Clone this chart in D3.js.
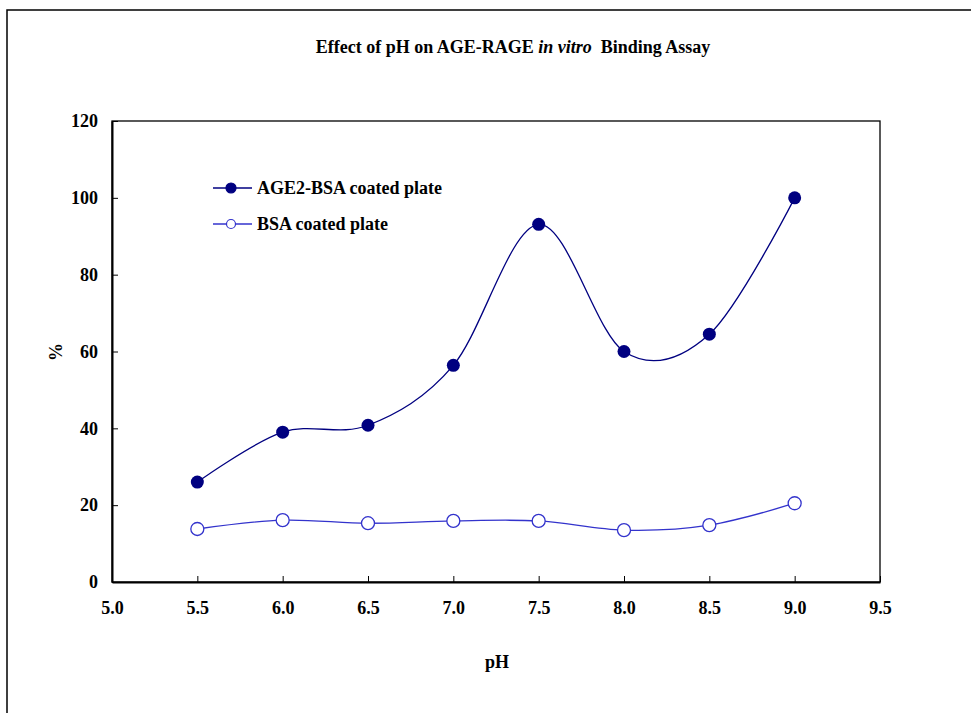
<!DOCTYPE html>
<html><head><meta charset="utf-8">
<script src="https://cdn.jsdelivr.net/npm/d3@7"></script>
<style>body{margin:0;background:#fff}svg{display:block}text{font-family:"Liberation Serif","Times New Roman",serif;font-weight:bold}</style>
</head><body>
<svg id="c" width="971" height="713"></svg>
<script>
const pH = [5.5, 6.0, 6.5, 7.0, 7.5, 8.0, 8.5, 9.0];
const age2bsa = [26, 39, 40.8, 56.4, 93.1, 60, 64.5, 100];
const bsa = [13.8, 16.1, 15.3, 15.9, 15.9, 13.5, 14.8, 20.5];
const xTicks = [5.0, 5.5, 6.0, 6.5, 7.0, 7.5, 8.0, 8.5, 9.0, 9.5];
const yTicks = [0, 20, 40, 60, 80, 100, 120];
const seriesNames = ["AGE2-BSA coated plate", "BSA coated plate"];

const svg = d3.select("#c");
svg.append("rect").attr("x",7).attr("y",10).attr("width",1000).attr("height",800)
  .attr("fill","none").attr("stroke","#000").attr("stroke-width",1.5);

const L=112,R=880,T=121,B=582;
const x = d3.scaleLinear().domain([5.0,9.5]).range([L,R]);
const y = d3.scaleLinear().domain([0,120]).range([B,T]);

svg.append("rect").attr("x",L).attr("y",T).attr("width",R-L).attr("height",B-T)
  .attr("fill","none").attr("stroke","#000").attr("stroke-width",1.3);

const xa = svg.append("g").attr("transform",`translate(0,${B})`)
  .call(d3.axisBottom(x).tickValues(xTicks).tickFormat(d3.format(".1f")).tickSizeInner(-6).tickSizeOuter(0).tickPadding(19));
const ya = svg.append("g").attr("transform",`translate(${L},0)`)
  .call(d3.axisLeft(y).tickValues(yTicks).tickSizeInner(-6).tickSizeOuter(0).tickPadding(14));
[xa,ya].forEach(a=>{a.select(".domain").attr("stroke","#000").attr("stroke-width",2);
  a.selectAll(".tick line").attr("stroke","#000");
  a.selectAll("text").attr("font-size",18).attr("fill","#000");});

svg.append("text").attr("x",513).attr("y",53).attr("text-anchor","middle").attr("font-size",18)
  .style("white-space","pre")
  .html('Effect of pH on AGE-RAGE <tspan font-style="italic">in vitro</tspan>  Binding Assay');
svg.append("text").attr("x",497).attr("y",668).attr("text-anchor","middle").attr("font-size",18).text("pH");
svg.append("text").attr("transform","translate(62,352) rotate(-90)").attr("text-anchor","middle").attr("font-size",18).text("%");

const line = d3.line().x((d,i)=>x(pH[i])).y(d=>y(d)).curve(d3.curveCatmullRom.alpha(0));
const c1="#000080", c2="#3333cc";
svg.append("path").attr("d",line(age2bsa)).attr("fill","none").attr("stroke",c1).attr("stroke-width",1.3);
svg.append("path").attr("d",line(bsa)).attr("fill","none").attr("stroke",c2).attr("stroke-width",1.3);
svg.selectAll(".p1").data(age2bsa).enter().append("circle").attr("cx",(d,i)=>x(pH[i])).attr("cy",d=>y(d)).attr("r",6.5).attr("fill",c1);
svg.selectAll(".p2").data(bsa).enter().append("circle").attr("cx",(d,i)=>x(pH[i])).attr("cy",d=>y(d)).attr("r",6.5).attr("fill","#fff").attr("stroke",c2).attr("stroke-width",1.3);

const lg=[{c:c1,f:c1,y:188},{c:c2,f:"#fff",y:224}];
lg.forEach((g,i)=>{
  svg.append("line").attr("x1",213).attr("x2",252).attr("y1",g.y).attr("y2",g.y).attr("stroke",g.c).attr("stroke-width",1.3);
  svg.append("circle").attr("cx",231).attr("cy",g.y).attr("r",i?4.5:5).attr("fill",g.f).attr("stroke",g.c).attr("stroke-width",1.2);
  svg.append("text").attr("x",257).attr("y",g.y+6).attr("font-size",18).text(seriesNames[i]);
});
</script></body></html>
